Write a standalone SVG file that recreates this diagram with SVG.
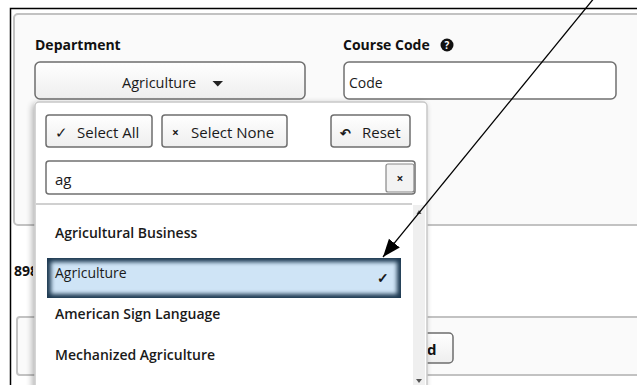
<svg xmlns="http://www.w3.org/2000/svg" width="637" height="385" viewBox="0 0 637 385">
<defs>
<style>
.lbl{font-family:"Open Sans","Noto Sans",sans-serif;font-weight:700;font-size:14px;fill:#111}
.btxt{font-family:"Open Sans","Noto Sans",sans-serif;font-size:14px;font-weight:500;fill:#1a1a1a}
.item{font-family:"Open Sans","Noto Sans",sans-serif;font-size:14px;font-weight:600;fill:#1a1a1a}
.btn{fill:url(#btnGrad);stroke:#6e6e6e;stroke-width:1.5}
.inp{fill:#fff;stroke:#707070;stroke-width:1.5}
.pane{fill:#fafafa;stroke:#c2c2c2;stroke-width:2}
</style>
<linearGradient id="btnGrad" x1="0" y1="0" x2="0" y2="1"><stop offset="0" stop-color="#ffffff"/><stop offset="1" stop-color="#eeeeee"/></linearGradient>
<filter id="shadow" x="-10%" y="-10%" width="120%" height="120%"><feGaussianBlur in="SourceAlpha" stdDeviation="3"/><feOffset dx="-2" dy="2"/><feComponentTransfer><feFuncA type="linear" slope="0.3"/></feComponentTransfer><feMerge><feMergeNode/><feMergeNode in="SourceGraphic"/></feMerge></filter>
<filter id="soft" x="-5%" y="-20%" width="110%" height="140%"><feGaussianBlur stdDeviation="2"/></filter>
<clipPath id="selclip"><rect x="47" y="258" width="354" height="40"/></clipPath>
<clipPath id="leftclip"><rect x="0" y="0" width="33" height="385"/></clipPath>
<marker id="ah" markerUnits="userSpaceOnUse" markerWidth="20" markerHeight="16" refX="18" refY="7" orient="auto"><path d="M0,0 L18,7 L0,14 z" fill="#000"/></marker>
</defs>
<rect width="637" height="385" fill="#fff"/>
<g id="frame">
<path d="M10.5,385 V8.5 H637" fill="none" stroke="#000" stroke-width="1.5"/>
<rect class="pane" x="14" y="14" width="640" height="211" rx="4"/>
<rect class="pane" x="17" y="317" width="640" height="58" rx="3"/>
<text class="lbl" x="14" y="276" clip-path="url(#leftclip)">898</text>
</g>
<g id="department">
<text class="lbl" x="35" y="50">Department</text>
<rect class="btn" x="35" y="62" width="270" height="37" rx="5"/>
<text class="btxt" x="122" y="88" style="font-size:14.5px">Agriculture</text>
<path d="M212.5,81 H223 L217.75,86.5 z" fill="#222"/>
</g>
<g id="course-code">
<text class="lbl" x="343" y="50">Course Code</text>
<circle cx="447" cy="45" r="6.5" fill="#111"/>
<text x="447" y="49" text-anchor="middle" style="font-family:'Open Sans',sans-serif;font-size:10px;font-weight:700;fill:#fff">?</text>
<rect class="inp" x="344" y="62" width="272" height="37" rx="5"/>
<text class="btxt" x="349" y="88" style="font-weight:400">Code</text>
</g>
<g id="d-button">
<rect class="btn" x="400" y="333" width="53" height="30" rx="4"/>
<text class="lbl" x="427" y="355" style="font-size:15px">d</text>
</g>
<g id="dropdown">
<rect x="35" y="102" width="392" height="300" rx="4" fill="#fff" stroke="#c8c8c8" stroke-width="1.5" filter="url(#shadow)"/>
<g id="select-all">
<rect class="btn" x="46" y="115" width="106" height="32" rx="3"/>
<text class="btxt" x="55" y="138" style="font-size:15px">✓</text>
<text class="btxt" x="77" y="138" style="font-size:15px">Select All</text>
</g>
<g id="select-none">
<rect class="btn" x="162" y="115" width="125" height="32" rx="3"/>
<text class="btxt" x="172" y="137" style="font-size:12px;font-weight:700">×</text>
<text class="btxt" x="191" y="138" style="font-size:15px">Select None</text>
</g>
<g id="reset">
<rect class="btn" x="331" y="115" width="79" height="32" rx="3"/>
<text class="btxt" x="340" y="138" style="font-size:13px;font-weight:700">↶</text>
<text class="btxt" x="362" y="138" style="font-size:15px">Reset</text>
</g>
<g id="search">
<rect class="inp" x="46" y="161" width="369" height="33" rx="3"/>
<text class="btxt" x="55" y="185" style="font-size:15px">ag</text>
<rect x="386" y="164" width="28" height="28" rx="2" fill="#f3f3f3" stroke="#888" stroke-width="1.2"/>
<text x="400" y="183" text-anchor="middle" style="font-family:'Open Sans',sans-serif;font-size:12px;font-weight:700;fill:#222">×</text>
</g>
<line x1="36" y1="204" x2="412" y2="204" stroke="#d0d0d0" stroke-width="2"/>
<g id="scrollbar">
<rect x="413" y="205" width="12" height="185" fill="#efefef"/>
<path d="M416.5,214 H421.5 L419,210 z" fill="#555"/>
<path d="M416,379 H422 L419,383 z" fill="#555"/>
</g>
<g id="item-agricultural-business"><text class="item" x="55" y="238">Agricultural Business</text></g>
<g id="item-agriculture">
<rect x="47" y="258" width="354" height="40" fill="#1e3a52"/>
<rect x="51" y="262" width="346" height="32" fill="#cfe4f6" filter="url(#soft)" clip-path="url(#selclip)"/>
<text class="item" x="55" y="278" style="font-weight:400">Agriculture</text>
<text class="item" x="377" y="283" style="font-weight:700">✓</text>
</g>
<g id="item-asl"><text class="item" x="55" y="319">American Sign Language</text></g>
<g id="item-mechanized"><text class="item" x="55" y="360">Mechanized Agriculture</text></g>
</g>
<g id="connectors">
<line x1="595" y1="-3" x2="383" y2="257" stroke="#000" stroke-width="1.3" marker-end="url(#ah)"/>
</g>
</svg>
